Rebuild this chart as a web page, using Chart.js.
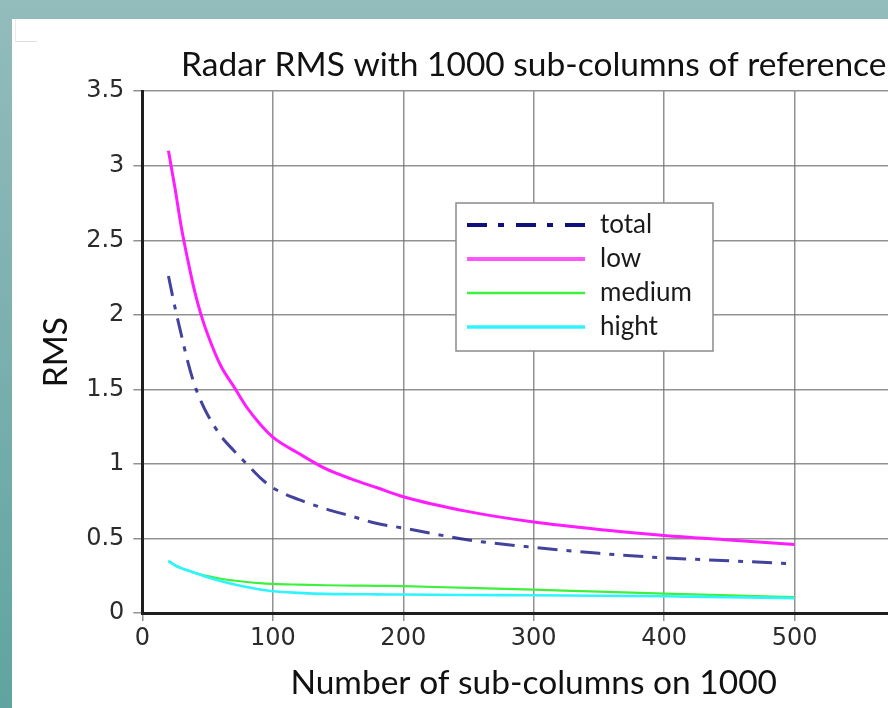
<!DOCTYPE html>
<html>
<head>
<meta charset="utf-8">
<title>Radar RMS</title>
<script src="https://cdn.jsdelivr.net/npm/chart.js@4.4.1/dist/chart.umd.min.js"></script>
<style>
  html, body {
    margin: 0;
    width: 888px;
    height: 708px;
    overflow: hidden;
    background: linear-gradient(to bottom, #93bcbc 0%, #82b3b2 35%, #5fa4a0 100%);
  }
  #panel {
    position: absolute;
    left: 12px;
    top: 19px;
    width: 876px;
    height: 689px;
    background: #fff;
    overflow: hidden;
  }
  #corner {
    position: absolute;
    left: 3px;
    top: 0;
    width: 21px;
    height: 22px;
    border-left: 1px solid #ececec;
    border-bottom: 1px solid #dedede;
  }
  #rmsChart {
    position: absolute;
    left: 0;
    top: 0;
  }
</style>
</head>
<body>
<div id="panel">
  <div id="corner"></div>
  <canvas id="rmsChart" width="939" height="689" style="width:939px;height:689px"></canvas>
</div>
<script>
// number of sub-columns (x) shared by every curve
const subColumns = [20, 25, 30, 35, 40, 45, 50, 60, 70, 80, 90, 100, 120, 140, 160, 180, 200, 250, 300, 350, 400, 450, 500];

const totalRms = [2.26, 2.05, 1.86, 1.68, 1.53, 1.42, 1.33, 1.19, 1.09, 1.00, 0.91, 0.84, 0.76, 0.70, 0.65, 0.60, 0.57, 0.49, 0.44, 0.40, 0.37, 0.35, 0.33];
const lowRms = [3.10, 2.85, 2.58, 2.36, 2.16, 2.00, 1.87, 1.66, 1.52, 1.38, 1.27, 1.18, 1.07, 0.97, 0.90, 0.84, 0.78, 0.68, 0.61, 0.56, 0.52, 0.49, 0.46];
const mediumRms = [0.35, 0.32, 0.30, 0.285, 0.27, 0.257, 0.247, 0.23, 0.218, 0.208, 0.20, 0.195, 0.19, 0.186, 0.184, 0.182, 0.18, 0.168, 0.157, 0.143, 0.13, 0.118, 0.107];
const hightRms = [0.35, 0.32, 0.30, 0.285, 0.27, 0.255, 0.24, 0.215, 0.193, 0.174, 0.158, 0.146, 0.135, 0.128, 0.126, 0.125, 0.124, 0.121, 0.119, 0.116, 0.112, 0.106, 0.10];

const seriesLabels = ["total", "low", "medium", "hight"];

const xTicks = [0, 100, 200, 300, 400, 500, 600];
const yTicks = [0, 0.5, 1, 1.5, 2, 2.5, 3, 3.5];

const titleFont = "Lato, 'Open Sans', sans-serif";
const tickFont = "'DejaVu Sans', Verdana, sans-serif";

/**
 * pair x values with one series
 */
function toPoints(values) {
  return values.map((v, i) => ({ x: subColumns[i], y: v }));
}

/**
 * framed legend drawn inside the plot
 */
const boxLegend = {
  id: "boxLegend",
  afterDatasetsDraw(chart, args, opts) {
    const ctx = chart.ctx;
    ctx.save();
    ctx.fillStyle = "#fff";
    ctx.fillRect(opts.left, opts.top, opts.width, opts.height);
    ctx.strokeStyle = "#8a8a8a";
    ctx.lineWidth = 1.5;
    ctx.strokeRect(opts.left, opts.top, opts.width, opts.height);

    chart.data.datasets.forEach((ds, i) => {
      const y = opts.top + opts.firstRow + i * opts.rowGap;
      ctx.setLineDash(ds.legendDash || []);
      ctx.strokeStyle = ds.legendColor || ds.borderColor;
      ctx.lineWidth = ds.legendWidth;
      ctx.beginPath();
      ctx.moveTo(opts.left + 11, y);
      ctx.lineTo(opts.left + 129, y);
      ctx.stroke();
      ctx.setLineDash([]);
      ctx.fillStyle = "#1a1a1a";
      ctx.font = "26px " + titleFont;
      ctx.textBaseline = "middle";
      ctx.fillText(ds.label, opts.left + 144, y);
    });
    ctx.restore();
  },
};

/**
 * RMS curves against sub-column count
 */
function renderRmsChart() {
  const canvas = document.getElementById("rmsChart");
  if (!canvas) return;

  const ctx = canvas.getContext("2d");
  window.rmsChartInstance = new Chart(ctx, {
    type: "line",
    data: {
      datasets: [
        {
          label: seriesLabels[0],
          data: toPoints(totalRms),
          borderColor: "rgba(34, 34, 140, 0.85)",
          borderWidth: 3,
          borderDash: [20, 9, 5, 9],
          legendColor: "#10107a",
          legendDash: [20, 11, 6, 12],
          legendWidth: 4,
          order: 1,
        },
        {
          label: seriesLabels[1],
          data: toPoints(lowRms),
          borderColor: "#ff1cff",
          borderWidth: 3,
          legendColor: "#ff55ff",
          legendWidth: 4,
          order: 1,
        },
        {
          label: seriesLabels[2],
          data: toPoints(mediumRms),
          borderColor: "#3cf03c",
          borderWidth: 2.2,
          legendWidth: 2.5,
          order: 1,
        },
        {
          label: seriesLabels[3],
          data: toPoints(hightRms),
          borderColor: "#2ef4ff",
          borderWidth: 2.6,
          legendWidth: 3.5,
          order: 0,
        },
      ],
    },
    options: {
      responsive: false,
      animation: false,
      devicePixelRatio: 1,
      layout: {
        padding: { left: 0, right: 0, top: 0, bottom: 0 },
      },
      elements: {
        point: { radius: 0 },
        line: { cubicInterpolationMode: "monotone", fill: false },
      },
      scales: {
        x: {
          type: "linear",
          min: xTicks[0],
          max: xTicks[xTicks.length - 1],
          afterBuildTicks: (scale) => {
            scale.ticks = xTicks.map((v) => ({ value: v }));
          },
          ticks: {
            color: "#2b2b2b",
            padding: 3,
            font: { family: tickFont, size: 24 },
            callback: (v) => String(v),
          },
          grid: {
            color: "rgba(110, 110, 110, 0.75)",
            lineWidth: 1.5,
            tickLength: 8,
          },
          border: { color: "#1e1e1e", width: 3 },
          title: {
            display: true,
            text: "Number of sub-columns on 1000",
            color: "#111",
            font: { family: titleFont, size: 33.5 },
            padding: { top: 7, bottom: 5 },
          },
        },
        y: {
          type: "linear",
          min: yTicks[0],
          max: yTicks[yTicks.length - 1],
          afterBuildTicks: (scale) => {
            scale.ticks = yTicks.map((v) => ({ value: v }));
          },
          ticks: {
            color: "#2b2b2b",
            padding: 9,
            font: { family: tickFont, size: 24 },
            callback: (v) => String(v),
          },
          grid: {
            color: "rgba(110, 110, 110, 0.75)",
            lineWidth: 1.5,
            tickLength: 9,
          },
          border: { color: "#1e1e1e", width: 3 },
          title: {
            display: true,
            text: "RMS",
            color: "#111",
            font: { family: titleFont, size: 33.5 },
            padding: { top: 24, bottom: 1 },
          },
        },
      },
      plugins: {
        legend: { display: false },
        tooltip: { enabled: false },
        title: {
          display: true,
          text: "Radar RMS with 1000 sub-columns of reference",
          color: "#111",
          fullSize: false,
          font: { family: titleFont, size: 33.5, weight: "normal" },
          padding: { top: 26, bottom: 6 },
        },
        boxLegend: {
          left: 444,
          top: 184,
          width: 257,
          height: 148,
          firstRow: 22,
          rowGap: 34,
        },
      },
    },
    plugins: [boxLegend],
  });
}

renderRmsChart();
</script>
</body>
</html>
